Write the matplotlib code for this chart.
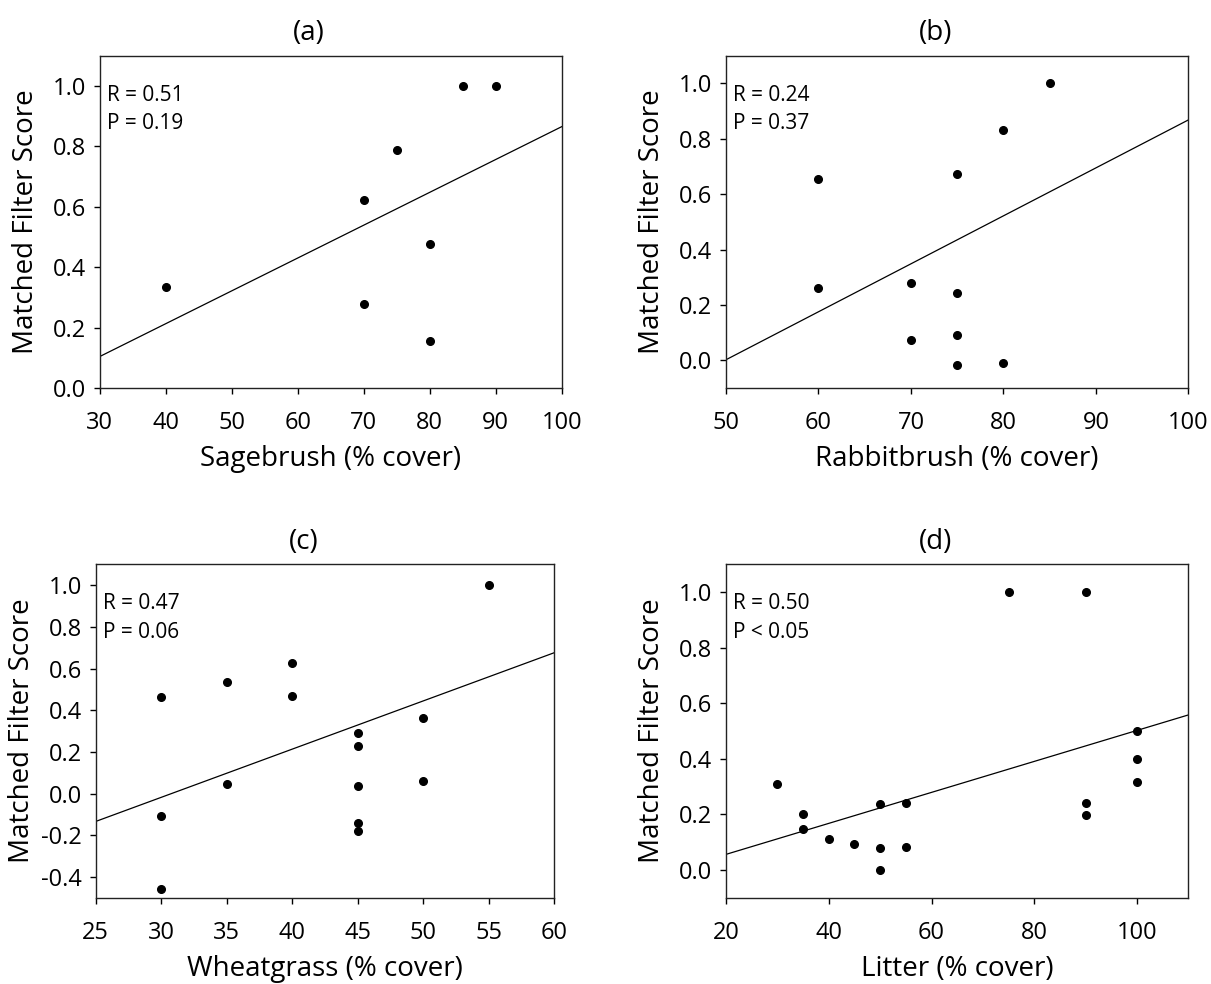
import matplotlib
matplotlib.use("Agg")
import matplotlib.pyplot as plt
from matplotlib.ticker import FormatStrFormatter

plt.rcParams['font.family'] = ['Open Sans', 'DejaVu Sans']

# (a) sagebrush
sage_x = [40, 70, 70, 75, 80, 80, 85, 90]
sage_y = [0.334, 0.622, 0.277, 0.788, 0.475, 0.155, 1.0, 1.0]
sage_fit_x = [30, 100]
sage_fit_y = [0.104, 0.865]

# (b) rabbitbrush
rabbit_x = [60, 60, 70, 70, 75, 75, 75, 75, 80, 80, 85]
rabbit_y = [0.655, 0.26, 0.28, 0.072, 0.671, 0.244, 0.091, -0.018, 0.833, -0.01, 1.0]
rabbit_fit_x = [50, 100]
rabbit_fit_y = [0.002, 0.868]

# (c) wheatgrass
wheat_x = [30, 30, 30, 35, 35, 40, 40, 45, 45, 45, 45, 45, 50, 50, 55]
wheat_y = [0.465, -0.107, -0.458, 0.535, 0.048, 0.627, 0.47,
           0.293, 0.231, 0.037, -0.138, -0.178, 0.365, 0.0625, 1.0]
wheat_fit_x = [25, 60]
wheat_fit_y = [-0.133, 0.676]

# (d) litter
litter_x = [30, 35, 35, 40, 45, 50, 50, 50, 55, 55, 75, 90, 90, 90, 100, 100, 100]
litter_y = [0.31, 0.2, 0.146, 0.113, 0.094, 0.238, 0.08, 0.0, 0.242, 0.082,
            1.0, 1.0, 0.242, 0.198, 0.5, 0.4, 0.315]
litter_fit_x = [20, 110]
litter_fit_y = [0.056, 0.558]

panels = [
    dict(title='(a)', x=sage_x, y=sage_y, fx=sage_fit_x, fy=sage_fit_y,
         xlabel='Sagebrush (% cover)', stats='R = 0.51\nP = 0.19',
         xlim=(30, 100), xticks=range(30, 101, 10),
         ylim=(0, 1.1), yticks=[0, 0.2, 0.4, 0.6, 0.8, 1.0],
         pos=[0.0823, 0.6057, 0.3815, 0.3377]),
    dict(title='(b)', x=rabbit_x, y=rabbit_y, fx=rabbit_fit_x, fy=rabbit_fit_y,
         xlabel='Rabbitbrush (% cover)', stats='R = 0.24\nP = 0.37',
         xlim=(50, 100), xticks=range(50, 101, 10),
         ylim=(-0.1, 1.1), yticks=[0, 0.2, 0.4, 0.6, 0.8, 1.0],
         pos=[0.5995, 0.6057, 0.3818, 0.3377]),
    dict(title='(c)', x=wheat_x, y=wheat_y, fx=wheat_fit_x, fy=wheat_fit_y,
         xlabel='Wheatgrass (% cover)', stats='R = 0.47\nP = 0.06',
         xlim=(25, 60), xticks=range(25, 61, 5),
         ylim=(-0.5, 1.1), yticks=[-0.4, -0.2, 0, 0.2, 0.4, 0.6, 0.8, 1.0],
         pos=[0.0790, 0.0874, 0.3786, 0.3391]),
    dict(title='(d)', x=litter_x, y=litter_y, fx=litter_fit_x, fy=litter_fit_y,
         xlabel='Litter (% cover)', stats='R = 0.50\nP < 0.05',
         xlim=(20, 110), xticks=range(20, 101, 20),
         ylim=(-0.1, 1.1), yticks=[0, 0.2, 0.4, 0.6, 0.8, 1.0],
         pos=[0.5995, 0.0877, 0.3819, 0.3388]),
]

fig = plt.figure(figsize=(12.11, 9.84), dpi=100)

for p in panels:
    ax = fig.add_axes(p['pos'])
    ax.plot(p['fx'], p['fy'], color='black', linewidth=0.9)
    ax.plot(p['x'], p['y'], 'o', color='black', markersize=5.5)
    ax.set_xlim(p['xlim'])
    ax.set_ylim(p['ylim'])
    ax.set_xticks(list(p['xticks']))
    ax.set_yticks(p['yticks'])
    ax.yaxis.set_major_formatter(FormatStrFormatter('%.1f'))
    ax.tick_params(direction='out', length=4, width=1, labelsize=17)
    ax.tick_params(axis='x', pad=12.5)
    ax.tick_params(axis='y', pad=6)
    for s in ax.spines.values():
        s.set_linewidth(1.0)
        s.set_color('#222222')
    ax.set_xlabel(p['xlabel'], fontsize=20, labelpad=7.5)
    ax.set_ylabel('Matched Filter Score', fontsize=20)
    # label sits at a fixed distance from the spine, whatever the tick widths
    ax_w = p['pos'][2] * 1211
    ax.yaxis.set_label_coords(-60 / ax_w, 0.5)
    ax.set_title(p['title'], fontsize=20, x=0.453, pad=11)
    ax.text(0.015, 0.913, p['stats'], transform=ax.transAxes, fontsize=15,
            va='top', ha='left', linespacing=1.45)

fig.savefig('out.png', dpi=100)
